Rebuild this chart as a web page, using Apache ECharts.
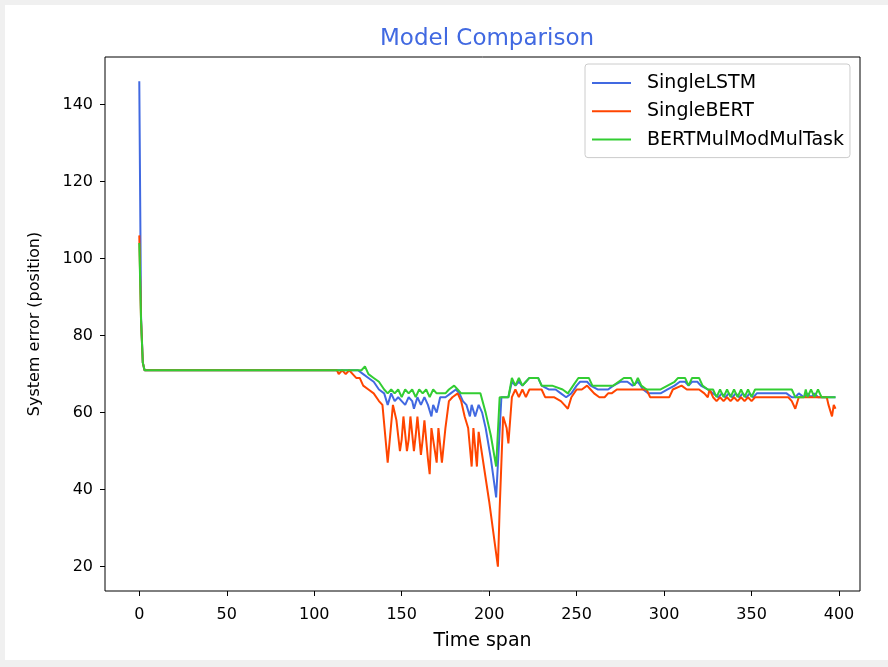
<!DOCTYPE html>
<html>
<head>
<meta charset="utf-8">
<script src="https://cdn.jsdelivr.net/npm/echarts@6/dist/echarts.min.js"></script>
<style>
  html, body { margin: 0; padding: 0; background: #f0f0f0; }
  #card { position: absolute; left: 5px; top: 5px; width: 883px; height: 655px; background: #ffffff; }
  #chart { position: absolute; left: 0; top: 0; width: 888px; height: 667px; }
</style>
</head>
<body>
<div id="card"></div>
<div id="chart"></div>
<script>
// ---- data: [time span, system error] ----
const seriesNames = ['SingleLSTM', 'SingleBERT', 'BERTMulModMulTask'];
const xTickLabels = [0, 50, 100, 150, 200, 250, 300, 350, 400];
const yTickLabels = [20, 40, 60, 80, 100, 120, 140];

const singleLSTM = [
  [0,146],[1,85],[2,73],[3,71],[125,71],[128,70],[131,69],[134,68],[137,66],[140,65],[142,62],[144,65],
  [146,63],[148,64],[150,63],[152,62],[154,64],[156,63],[157,61],[159,64],[161,62],[163,64],[165,62],
  [167,59],[168,62],[170,60],[172,64],[175,64],[178,65],[181,66],[183,65],[185,63],[187,62],[189,59],
  [190,62],[192,59],[194,62],[196,60],[198,56],[201,48],[204,38],[207,64],[211,64],[213,68],[215,67],
  [217,68],[219,67],[221,68],[223,69],[228,69],[230,67],[234,66],[238,66],[241,65],[244,64],[247,65],
  [250,67],[252,68],[256,68],[258,67],[262,66],[268,66],[271,67],[275,68],[279,68],[282,67],[285,68],
  [288,66],[291,65],[298,65],[302,66],[306,67],[309,68],[312,68],[314,67],[316,68],[319,68],[321,67],
  [325,66],[328,65],[331,64],[333,65],[335,64],[337,65],[339,64],[341,65],[343,64],[345,65],[347,64],
  [349,65],[351,64],[353,65],[357,65],[370,65],[373,64],[375,64],[377,65],[380,64],[382,65],[384,64],
  [386,65],[388,64],[392,64],[398,64]
];

const singleBERT = [
  [0,106],[1,84],[2,73],[3,71],[113,71],[114,70],[116,71],[118,70],[120,71],[122,70],[124,69],[126,69],
  [128,67],[131,66],[134,65],[137,63],[139,62],[140,57],[142,47],[144,57],[145,62],[147,58],[149,50],
  [150,53],[151,59],[153,50],[154,53],[155,59],[157,50],[158,54],[159,59],[161,49],[162,53],[163,58],
  [165,48],[166,44],[167,56],[168,53],[170,47],[171,56],[173,47],[175,56],[177,63],[179,64],[182,65],
  [184,63],[186,59],[188,56],[190,46],[191,56],[193,46],[194,55],[196,49],[200,37],[205,20],[206,35],
  [208,59],[210,56],[211,52],[213,64],[215,66],[217,64],[219,66],[221,64],[223,66],[230,66],[232,64],
  [237,64],[241,63],[243,62],[245,61],[247,64],[250,66],[253,66],[256,67],[258,66],[260,65],[263,64],
  [266,64],[268,65],[270,65],[273,66],[290,66],[292,64],[300,64],[303,64],[305,66],[310,67],[313,66],
  [320,66],[323,65],[325,64],[326,66],[328,64],[330,63],[332,64],[334,63],[336,64],[338,63],[340,64],
  [342,63],[344,64],[346,63],[348,64],[350,63],[352,64],[356,64],[371,64],[373,63],[375,61],[377,64],
  [393,64],[394,62],[396,59],[397,62],[398,61]
];

const bertMulModMulTask = [
  [0,104],[1,84],[2,73],[3,71],[127,71],[129,72],[131,70],[134,69],[137,68],[140,66],[142,65],[144,66],
  [146,65],[148,66],[150,64],[152,66],[154,65],[156,66],[158,64],[160,66],[162,65],[164,66],[166,64],
  [168,66],[170,65],[175,65],[177,66],[180,67],[182,66],[184,65],[195,65],[198,60],[201,54],[204,46],
  [206,64],[211,64],[213,69],[215,67],[217,69],[219,67],[221,68],[223,69],[228,69],[230,67],[236,67],
  [242,66],[245,65],[248,67],[251,69],[257,69],[259,67],[271,67],[274,68],[277,69],[281,69],[283,67],
  [285,69],[287,67],[290,66],[298,66],[302,67],[306,68],[308,69],[312,69],[314,67],[316,69],[320,69],
  [322,67],[325,66],[328,66],[330,64],[332,66],[334,64],[336,66],[338,64],[340,66],[342,64],[344,66],
  [346,64],[348,66],[350,64],[352,66],[356,66],[373,66],[375,64],[380,64],[381,66],[382,64],[384,66],
  [386,64],[388,66],[390,64],[398,64]
];

const colors = ['#4169E1', '#FF4500', '#32CD32'];
const font = 'DejaVu Sans';

const chart = echarts.init(document.getElementById('chart'), null, { renderer: 'canvas' });
chart.setOption({
  animation: false,
  backgroundColor: 'transparent',
  title: {
    text: 'Model Comparison',
    left: 482, top: 23, textAlign: 'center',
    textStyle: { color: '#4169E1', fontFamily: font, fontSize: 23, fontWeight: 'normal' }
  },
  legend: {
    orient: 'vertical',
    left: 585, top: 64,
    data: seriesNames,
    icon: 'rect',
    itemWidth: 39, itemHeight: 2,
    itemGap: 8.3,
    padding: [9, 6, 8, 7],
    borderColor: '#cccccc', borderWidth: 1, borderRadius: 3,
    backgroundColor: '#ffffff',
    textStyle: { fontFamily: font, fontSize: 19, lineHeight: 20, color: '#000', padding: [0, 0, 0, 11] }
  },
  grid: {
    left: 105, top: 57, width: 755, height: 534,
    show: true, borderColor: '#000', borderWidth: 1, backgroundColor: 'transparent'
  },
  xAxis: {
    type: 'value', min: -19.6, max: 412,
    name: 'Time span', nameLocation: 'middle', nameGap: 41,
    nameTextStyle: { fontFamily: font, fontSize: 19, color: '#000' },
    axisLine: { show: false, onZero: false },
    splitLine: { show: false },
    axisTick: { show: true, inside: false, length: 5, lineStyle: { color: '#000' }, customValues: xTickLabels },
    axisLabel: { fontFamily: font, fontSize: 16, color: '#000', margin: 16, customValues: xTickLabels }
  },
  yAxis: {
    type: 'value', min: 13.7, max: 152.3,
    name: 'System error (position)', nameLocation: 'middle', nameGap: 62,
    nameTextStyle: { fontFamily: font, fontSize: 16, color: '#000' },
    axisLine: { show: false, onZero: false },
    splitLine: { show: false },
    axisTick: { show: true, inside: false, length: 5, lineStyle: { color: '#000' }, customValues: yTickLabels },
    axisLabel: { fontFamily: font, fontSize: 16, color: '#000', margin: 12, customValues: yTickLabels }
  },
  series: [
    { name: seriesNames[0], type: 'line', data: singleLSTM, showSymbol: false, color: colors[0], lineStyle: { width: 2 } },
    { name: seriesNames[1], type: 'line', data: singleBERT, showSymbol: false, color: colors[1], lineStyle: { width: 2 } },
    { name: seriesNames[2], type: 'line', data: bertMulModMulTask, showSymbol: false, color: colors[2], lineStyle: { width: 2 } }
  ]
});
</script>
</body>
</html>
